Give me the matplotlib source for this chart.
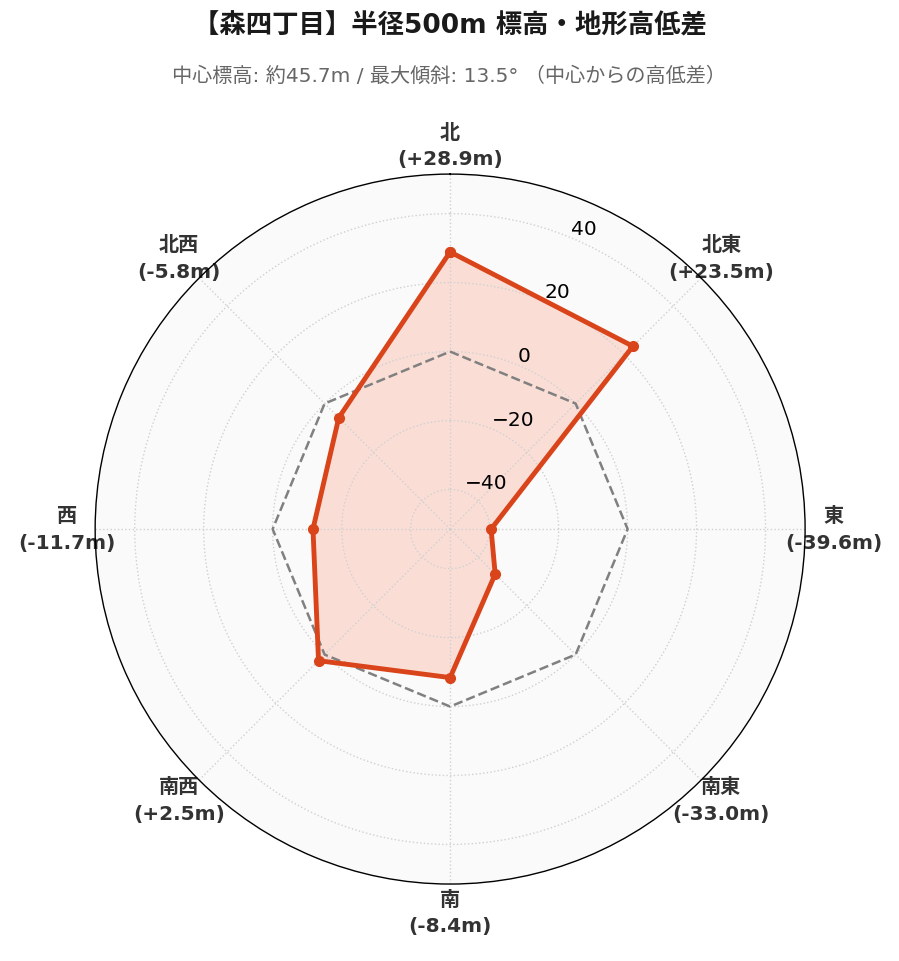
import numpy as np
import matplotlib.pyplot as plt

plt.rcParams['font.family'] = ['DejaVu Sans', 'Noto Sans CJK JP']

directions = ['北', '北東', '東', '南東', '南', '南西', '西', '北西']
diffs = [28.9, 23.5, -39.6, -33.0, -8.4, 2.5, -11.7, -5.8]
rticks = [-40, -20, 0, 20, 40]

n = len(directions)
angles = np.linspace(0, 2 * np.pi, n, endpoint=False)
ang_c = np.append(angles, angles[0])
val_c = np.append(diffs, diffs[0])

fig = plt.figure(figsize=(8.99, 9.62), dpi=100)
ax = fig.add_axes([0.1057, 0.080, 0.790, 0.738], projection='polar')
ax.set_theta_zero_location('N')
ax.set_theta_direction(-1)
ax.set_facecolor('#fafafa')

lim = max(abs(v) for v in diffs) * 1.3
ax.set_ylim(-lim, lim)

ax.plot(ang_c, np.zeros_like(ang_c), color='gray', linestyle='--', linewidth=1.8)
ax.fill(ang_c, val_c, color='#fc9f85', alpha=0.3)
ax.plot(ang_c, val_c, color='#d9441a', linewidth=3.5, marker='o', markersize=7)

labels = [f"{d}\n({v:+.1f}m)" for d, v in zip(directions, diffs)]
ax.set_xticks(angles)
ax.set_xticklabels(labels, fontsize=14.5, fontweight='bold', color='#333333',
                   linespacing=1.5)
ax.tick_params(axis='x', pad=10)
ax.set_yticks(rticks)
ax.tick_params(axis='y', labelsize=14.5)
ax.set_rlabel_position(22.5)
ax.grid(True, color='#d0d0d0', linestyle=':', linewidth=1)
ax.spines['polar'].set_color('black')
ax.spines['polar'].set_linewidth(1)

fig.text(0.5, 0.972, '【森四丁目】半径500m 標高・地形高低差', ha='center', va='center',
         fontsize=19, fontweight='bold', color='#1a1a1a')
fig.text(0.5, 0.921, '中心標高: 約45.7m / 最大傾斜: 13.5° （中心からの高低差）', ha='center',
         va='center', fontsize=14.5, color='#666666')

fig.savefig('out.png', dpi=100)
